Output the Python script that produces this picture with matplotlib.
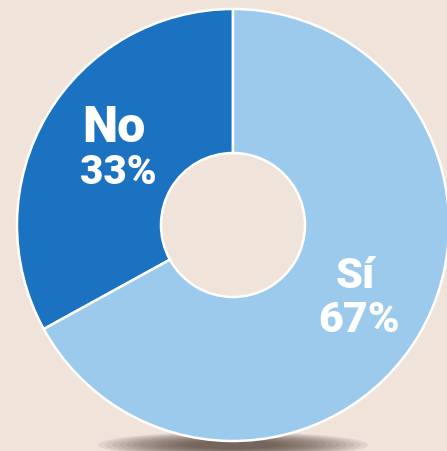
import matplotlib
matplotlib.use("Agg")
from matplotlib import pyplot as plt
from matplotlib.patches import Ellipse

labels = ["No", "Sí"]
shares = [33, 67]
colors = ["#1a72c0", "#9bcaec"]
label_pos = [(116, 300), (357, 152)]

BG = "#efe3da"
W, H = 447, 452
cx, cy = 233, 226
r_out, r_in = 216, 72

fig = plt.figure(figsize=(W / 100, H / 100), dpi=100, facecolor=BG)
ax = fig.add_axes([0, 0, 1, 1])
ax.set_facecolor(BG)

# soft shadow under the ring
for i in range(14):
    ax.add_patch(Ellipse((cx, 6), 270 - i * 14, 26 - i * 1.4,
                         color="#3f3028", alpha=0.08, lw=0, zorder=1))

ax.pie(shares, colors=colors, startangle=90, counterclock=True,
       center=(cx, cy), radius=r_out, frame=True,
       wedgeprops=dict(width=r_out - r_in, edgecolor="white", linewidth=1.8))
ax.set_xlim(0, W)
ax.set_ylim(0, H)
ax.set_aspect("equal")
ax.axis("off")

for lab, val, (x, y) in zip(labels, shares, label_pos):
    big = 36 if lab == "No" else 31
    small = 29 if lab == "No" else 31
    ax.text(x - 2, y + 24, lab, ha="center", va="center", color="white",
            fontsize=big, fontweight="black", family="Roboto", zorder=5)
    ax.text(x + 2, y - 20, f"{val}%", ha="center", va="center", color="white",
            fontsize=small, fontweight="black", family="Roboto", zorder=5)

plt.savefig("out.png", dpi=100, facecolor=BG)
plt.close("all")
